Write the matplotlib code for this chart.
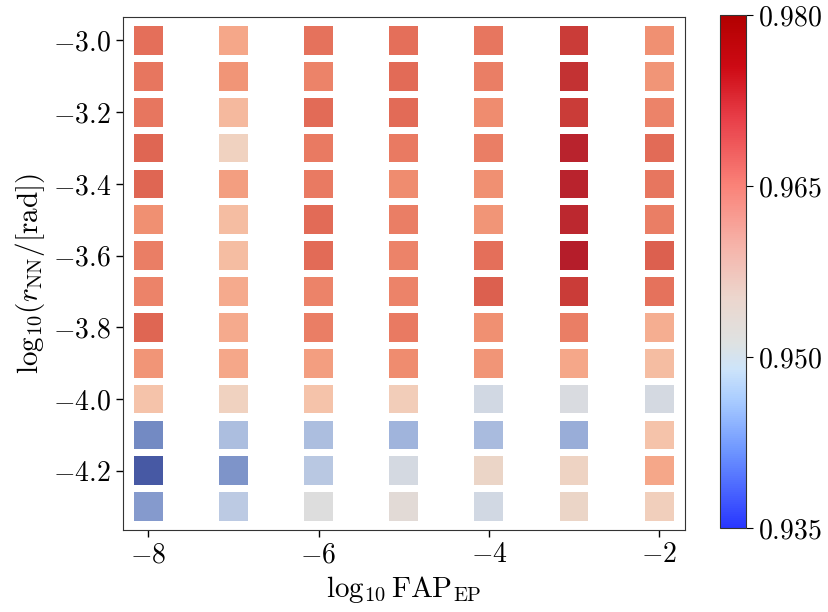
import numpy as np
import matplotlib
matplotlib.use("Agg")
import matplotlib.pyplot as plt
from matplotlib.colors import LinearSegmentedColormap, Normalize
from matplotlib.ticker import FuncFormatter
import matplotlib.cm as cm

plt.rcParams['mathtext.fontset'] = 'cm'
plt.rcParams['font.family'] = 'serif'
plt.rcParams['font.serif'] = ['cmr10', 'DejaVu Serif']
plt.rcParams['axes.unicode_minus'] = False

# Data
log_fap = [-8, -7, -6, -5, -4, -3, -2]
log_r = [-3.0, -3.1, -3.2, -3.3, -3.4, -3.5, -3.6, -3.7, -3.8, -3.9, -4.0, -4.1, -4.2, -4.3]
val_m8 = [0.9733, 0.9724, 0.9724, 0.9742, 0.9742, 0.9697, 0.9715, 0.9710, 0.9742, 0.9692, 0.9638, 0.9449, 0.9364, 0.9472]
val_m7 = [0.9674, 0.9692, 0.9652, 0.9611, 0.9683, 0.9647, 0.9647, 0.9670, 0.9670, 0.9674, 0.9611, 0.9521, 0.9463, 0.9539]
val_m6 = [0.9728, 0.9710, 0.9737, 0.9719, 0.9719, 0.9737, 0.9737, 0.9710, 0.9715, 0.9683, 0.9638, 0.9521, 0.9535, 0.9575]
val_m5 = [0.9733, 0.9737, 0.9737, 0.9719, 0.9701, 0.9715, 0.9710, 0.9710, 0.9719, 0.9701, 0.9620, 0.9508, 0.9566, 0.9584]
val_m4 = [0.9724, 0.9715, 0.9701, 0.9715, 0.9697, 0.9692, 0.9733, 0.9746, 0.9697, 0.9692, 0.9562, 0.9517, 0.9602, 0.9562]
val_m3 = [0.9769, 0.9778, 0.9769, 0.9791, 0.9791, 0.9787, 0.9796, 0.9769, 0.9715, 0.9674, 0.9571, 0.9499, 0.9607, 0.9602]
val_m2 = [0.9697, 0.9692, 0.9710, 0.9737, 0.9724, 0.9715, 0.9746, 0.9728, 0.9665, 0.9647, 0.9566, 0.9638, 0.9674, 0.9616]
columns = [val_m8, val_m7, val_m6, val_m5, val_m4, val_m3, val_m2]
cbar_ticks = [0.935, 0.950, 0.965, 0.980]

xs, ys, vs = [], [], []
for fx, col in zip(log_fap, columns):
    for ry, v in zip(log_r, col):
        xs.append(fx); ys.append(ry); vs.append(v)

vmin, vmax = 0.935, 0.980

def rgb(r, g, b):
    return (r / 255, g / 255, b / 255)

# muted coolwarm-like colormap for the squares
sq_cmap = LinearSegmentedColormap.from_list('sq', [
    (0.00, rgb(65, 82, 160)),
    (0.22, rgb(115, 138, 195)),
    (0.35, rgb(160, 180, 220)),
    (0.45, rgb(200, 212, 230)),
    (0.50, rgb(221, 221, 222)),
    (0.58, rgb(240, 210, 192)),
    (0.64, rgb(245, 195, 170)),
    (0.72, rgb(245, 168, 138)),
    (0.77, rgb(240, 145, 115)),
    (0.82, rgb(233, 122, 98)),
    (0.87, rgb(225, 105, 85)),
    (0.93, rgb(203, 62, 57)),
    (1.00, rgb(178, 25, 40)),
])

fig = plt.figure(figsize=(8.29, 6.12), dpi=100)
ax = fig.add_axes([0.148, 0.134, 0.678, 0.838])
sc = ax.scatter(xs, ys, c=vs, cmap=sq_cmap, vmin=vmin, vmax=vmax,
                marker='s', s=430, linewidths=0)

ax.set_xticks([-8, -6, -4, -2])
ax.set_yticks([-3.0, -3.2, -3.4, -3.6, -3.8, -4.0, -4.2])
ax.xaxis.set_major_formatter(FuncFormatter(lambda x, p: f'${x:.0f}$'))
ax.yaxis.set_major_formatter(FuncFormatter(lambda x, p: f'${x:.1f}$'))
ax.tick_params(labelsize=20, length=5, width=1)
ax.set_xlabel(r'$\log_{10}\mathrm{FAP}_{\mathrm{EP}}$', fontsize=21)
ax.set_ylabel(r'$\mathrm{log}_{10}(r_{\mathrm{NN}}/[\mathrm{rad}])$', fontsize=21)
for sp in ax.spines.values():
    sp.set_color('#333333')

# colorbar with its own colormap
cb_cmap = LinearSegmentedColormap.from_list('cbmap', [
    (0.00, rgb(40, 55, 255)),
    (0.15, rgb(110, 150, 255)),
    (0.25, rgb(170, 205, 255)),
    (0.31, rgb(205, 228, 250)),
    (0.36, rgb(222, 226, 226)),
    (0.45, rgb(236, 214, 205)),
    (0.55, rgb(246, 180, 170)),
    (0.67, rgb(250, 130, 120)),
    (0.80, rgb(232, 62, 72)),
    (0.90, rgb(205, 10, 20)),
    (1.00, rgb(178, 0, 0)),
])
cax = fig.add_axes([0.8685, 0.137, 0.0315, 0.838])
sm = cm.ScalarMappable(norm=Normalize(vmin, vmax), cmap=cb_cmap)
cb = fig.colorbar(sm, cax=cax, ticks=cbar_ticks)
cb.ax.yaxis.set_major_formatter(FuncFormatter(lambda x, p: f'${x:.3f}$'))
cb.ax.tick_params(labelsize=20, length=5)
cb.outline.set_edgecolor('#333333')

fig.savefig('out.png', dpi=100)
